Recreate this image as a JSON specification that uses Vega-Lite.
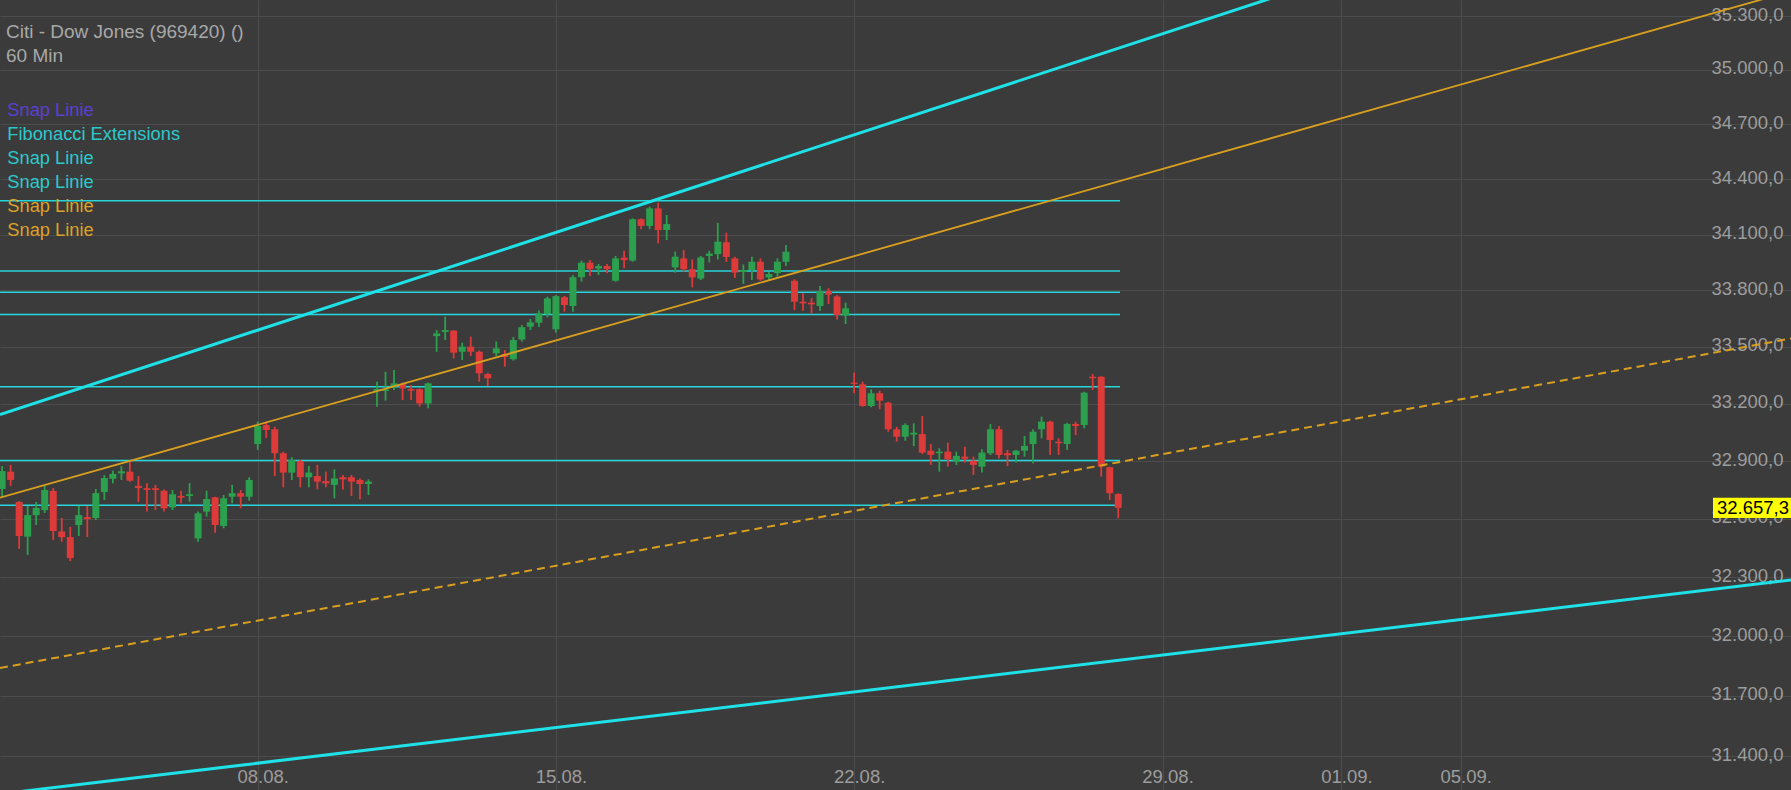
{
  "$schema": "https://vega.github.io/schema/vega-lite/v6.json",
  "width": 1791,
  "height": 790,
  "padding": 0,
  "autosize": {"type": "none"},
  "background": "#3b3b3b",
  "config": {
    "view": {"stroke": null},
    "font": "Liberation Sans",
    "axis": {"domain": false, "gridColor": "#4c4c4c", "gridWidth": 1, "labelColor": "#9d9d9d", "labelFontSize": 18.5, "labelFont": "Liberation Sans"}
  },
  "datasets": {
    "candles": [
      {"t":5,"o":32755,"h":32874,"l":32719,"c":32848},
      {"t":6,"o":32845,"h":32880,"l":32771,"c":32802},
      {"t":7,"o":32688,"h":32693,"l":32446,"c":32512},
      {"t":8,"o":32509,"h":32667,"l":32415,"c":32620},
      {"t":9,"o":32620,"h":32688,"l":32569,"c":32657},
      {"t":10,"o":32646,"h":32771,"l":32631,"c":32750},
      {"t":11,"o":32745,"h":32760,"l":32492,"c":32538},
      {"t":12,"o":32535,"h":32605,"l":32483,"c":32506},
      {"t":13,"o":32507,"h":32559,"l":32384,"c":32399},
      {"t":14,"o":32569,"h":32667,"l":32512,"c":32620},
      {"t":15,"o":32610,"h":32667,"l":32507,"c":32600},
      {"t":16,"o":32605,"h":32755,"l":32595,"c":32734},
      {"t":17,"o":32739,"h":32827,"l":32698,"c":32812},
      {"t":18,"o":32808,"h":32850,"l":32784,"c":32833},
      {"t":19,"o":32836,"h":32874,"l":32802,"c":32847},
      {"t":20,"o":32845,"h":32897,"l":32793,"c":32798},
      {"t":21,"o":32771,"h":32822,"l":32688,"c":32760},
      {"t":22,"o":32759,"h":32785,"l":32638,"c":32750},
      {"t":23,"o":32759,"h":32776,"l":32646,"c":32750},
      {"t":24,"o":32746,"h":32753,"l":32638,"c":32655},
      {"t":25,"o":32660,"h":32750,"l":32646,"c":32728},
      {"t":26,"o":32719,"h":32746,"l":32681,"c":32710},
      {"t":27,"o":32719,"h":32785,"l":32689,"c":32728},
      {"t":28,"o":32500,"h":32638,"l":32483,"c":32629},
      {"t":29,"o":32638,"h":32746,"l":32612,"c":32703},
      {"t":30,"o":32712,"h":32715,"l":32529,"c":32569},
      {"t":31,"o":32564,"h":32724,"l":32552,"c":32707},
      {"t":32,"o":32715,"h":32776,"l":32681,"c":32733},
      {"t":33,"o":32733,"h":32750,"l":32655,"c":32715},
      {"t":34,"o":32715,"h":32816,"l":32694,"c":32802},
      {"t":35,"o":32989,"h":33106,"l":32958,"c":33083},
      {"t":36,"o":33088,"h":33099,"l":33020,"c":33062},
      {"t":37,"o":33066,"h":33079,"l":32822,"c":32941},
      {"t":38,"o":32941,"h":32949,"l":32764,"c":32840},
      {"t":39,"o":32840,"h":32920,"l":32802,"c":32906},
      {"t":40,"o":32900,"h":32906,"l":32764,"c":32816},
      {"t":41,"o":32816,"h":32874,"l":32764,"c":32840},
      {"t":42,"o":32822,"h":32880,"l":32753,"c":32793},
      {"t":43,"o":32796,"h":32845,"l":32764,"c":32784},
      {"t":44,"o":32776,"h":32857,"l":32707,"c":32810},
      {"t":45,"o":32816,"h":32828,"l":32753,"c":32805},
      {"t":46,"o":32816,"h":32828,"l":32719,"c":32793},
      {"t":47,"o":32802,"h":32810,"l":32702,"c":32781},
      {"t":48,"o":32781,"h":32805,"l":32724,"c":32793},
      {"t":49,"o":33267,"h":33316,"l":33184,"c":33277},
      {"t":50,"o":33267,"h":33368,"l":33216,"c":33275},
      {"t":51,"o":33289,"h":33377,"l":33272,"c":33307},
      {"t":52,"o":33304,"h":33311,"l":33219,"c":33280},
      {"t":53,"o":33277,"h":33298,"l":33219,"c":33269},
      {"t":54,"o":33276,"h":33281,"l":33185,"c":33201},
      {"t":55,"o":33201,"h":33311,"l":33176,"c":33307},
      {"t":56,"o":33557,"h":33589,"l":33474,"c":33571},
      {"t":57,"o":33579,"h":33660,"l":33536,"c":33589},
      {"t":58,"o":33586,"h":33589,"l":33439,"c":33469},
      {"t":59,"o":33474,"h":33522,"l":33430,"c":33501},
      {"t":60,"o":33501,"h":33554,"l":33451,"c":33474},
      {"t":61,"o":33474,"h":33481,"l":33316,"c":33360},
      {"t":62,"o":33356,"h":33363,"l":33293,"c":33334},
      {"t":63,"o":33466,"h":33528,"l":33451,"c":33492},
      {"t":64,"o":33462,"h":33483,"l":33395,"c":33446},
      {"t":65,"o":33434,"h":33552,"l":33427,"c":33536},
      {"t":66,"o":33539,"h":33616,"l":33528,"c":33604},
      {"t":67,"o":33607,"h":33648,"l":33589,"c":33630},
      {"t":68,"o":33628,"h":33693,"l":33605,"c":33678},
      {"t":69,"o":33674,"h":33767,"l":33657,"c":33758},
      {"t":70,"o":33593,"h":33776,"l":33575,"c":33770},
      {"t":71,"o":33764,"h":33771,"l":33687,"c":33722},
      {"t":72,"o":33717,"h":33883,"l":33687,"c":33871},
      {"t":73,"o":33871,"h":33960,"l":33847,"c":33949},
      {"t":74,"o":33949,"h":33963,"l":33878,"c":33914},
      {"t":75,"o":33917,"h":33942,"l":33883,"c":33931},
      {"t":76,"o":33931,"h":33942,"l":33892,"c":33915},
      {"t":77,"o":33852,"h":33985,"l":33847,"c":33972},
      {"t":78,"o":33976,"h":34013,"l":33919,"c":33963},
      {"t":79,"o":33960,"h":34188,"l":33954,"c":34183},
      {"t":80,"o":34183,"h":34188,"l":34129,"c":34147},
      {"t":81,"o":34147,"h":34251,"l":34129,"c":34242},
      {"t":82,"o":34242,"h":34273,"l":34053,"c":34125},
      {"t":83,"o":34125,"h":34206,"l":34071,"c":34157},
      {"t":84,"o":33924,"h":34008,"l":33895,"c":33981},
      {"t":85,"o":33972,"h":34017,"l":33901,"c":33914},
      {"t":86,"o":33914,"h":33966,"l":33817,"c":33870},
      {"t":87,"o":33864,"h":33985,"l":33856,"c":33977},
      {"t":88,"o":33985,"h":34013,"l":33950,"c":33998},
      {"t":89,"o":33995,"h":34164,"l":33966,"c":34062},
      {"t":90,"o":34059,"h":34110,"l":33953,"c":33980},
      {"t":91,"o":33972,"h":33981,"l":33867,"c":33896},
      {"t":92,"o":33899,"h":33939,"l":33835,"c":33910},
      {"t":93,"o":33910,"h":33981,"l":33856,"c":33954},
      {"t":94,"o":33954,"h":33972,"l":33851,"c":33859},
      {"t":95,"o":33870,"h":33899,"l":33856,"c":33888},
      {"t":96,"o":33893,"h":33972,"l":33874,"c":33954},
      {"t":97,"o":33954,"h":34044,"l":33931,"c":34008},
      {"t":98,"o":33852,"h":33860,"l":33696,"c":33740},
      {"t":99,"o":33740,"h":33785,"l":33692,"c":33731},
      {"t":100,"o":33735,"h":33760,"l":33676,"c":33726},
      {"t":101,"o":33717,"h":33824,"l":33692,"c":33796},
      {"t":102,"o":33796,"h":33812,"l":33728,"c":33778},
      {"t":103,"o":33768,"h":33776,"l":33645,"c":33669},
      {"t":104,"o":33666,"h":33735,"l":33621,"c":33705},
      {"t":105,"o":33311,"h":33364,"l":33255,"c":33304},
      {"t":106,"o":33302,"h":33316,"l":33184,"c":33188},
      {"t":107,"o":33188,"h":33276,"l":33181,"c":33255},
      {"t":108,"o":33255,"h":33268,"l":33171,"c":33216},
      {"t":109,"o":33205,"h":33210,"l":33053,"c":33066},
      {"t":110,"o":33066,"h":33079,"l":33001,"c":33027},
      {"t":111,"o":33027,"h":33097,"l":33006,"c":33088},
      {"t":112,"o":33038,"h":33097,"l":32978,"c":33048},
      {"t":113,"o":33041,"h":33135,"l":32937,"c":32944},
      {"t":114,"o":32954,"h":32989,"l":32880,"c":32932},
      {"t":115,"o":32941,"h":32967,"l":32845,"c":32949},
      {"t":116,"o":32949,"h":32996,"l":32871,"c":32909},
      {"t":117,"o":32897,"h":32949,"l":32880,"c":32927},
      {"t":118,"o":32923,"h":32975,"l":32892,"c":32912},
      {"t":119,"o":32902,"h":32923,"l":32828,"c":32880},
      {"t":120,"o":32871,"h":32961,"l":32840,"c":32944},
      {"t":121,"o":32941,"h":33093,"l":32932,"c":33066},
      {"t":122,"o":33066,"h":33083,"l":32914,"c":32932},
      {"t":123,"o":32941,"h":32958,"l":32874,"c":32930},
      {"t":124,"o":32932,"h":32958,"l":32892,"c":32954},
      {"t":125,"o":32954,"h":33031,"l":32923,"c":32979},
      {"t":126,"o":32989,"h":33066,"l":32889,"c":33053},
      {"t":127,"o":33066,"h":33132,"l":33019,"c":33106},
      {"t":128,"o":33106,"h":33111,"l":32932,"c":33010},
      {"t":129,"o":33001,"h":33019,"l":32932,"c":32993},
      {"t":130,"o":32989,"h":33100,"l":32958,"c":33094},
      {"t":131,"o":33094,"h":33106,"l":33036,"c":33083},
      {"t":132,"o":33088,"h":33263,"l":33071,"c":33258},
      {"t":133,"o":33342,"h":33356,"l":33272,"c":33334},
      {"t":134,"o":33342,"h":33345,"l":32819,"c":32871},
      {"t":135,"o":32868,"h":32871,"l":32698,"c":32733},
      {"t":136,"o":32729,"h":32733,"l":32604,"c":32657.3}
    ],
    "lines": [
      {"id":"f1","name":"fib","t":0,"v":34283.5},{"id":"f1","name":"fib","t":136.2,"v":34283.5},
      {"id":"f2","name":"fib","t":0,"v":33904.4},{"id":"f2","name":"fib","t":136.2,"v":33904.4},
      {"id":"f3","name":"fib","t":0,"v":33790.3},{"id":"f3","name":"fib","t":136.2,"v":33790.3},
      {"id":"f4","name":"fib","t":0,"v":33671.8},{"id":"f4","name":"fib","t":136.2,"v":33671.8},
      {"id":"f5","name":"fib","t":0,"v":33289.4},{"id":"f5","name":"fib","t":136.2,"v":33289.4},
      {"id":"f6","name":"fib","t":0,"v":32903.0},{"id":"f6","name":"fib","t":136.2,"v":32903.0},
      {"id":"f7","name":"fib","t":0,"v":32670.6},{"id":"f7","name":"fib","t":136.2,"v":32670.6},
      {"id":"s2","name":"s2","t":4.753,"v":33143.3},{"id":"s2","name":"s2","t":214.96,"v":36365.7},
      {"id":"s3","name":"s3","t":4.753,"v":31212.2},{"id":"s3","name":"s3","t":214.96,"v":32286.7},
      {"id":"s4","name":"s4","t":4.753,"v":32709.9},{"id":"s4","name":"s4","t":214.96,"v":35438.8},
      {"id":"s5","name":"s5","t":4.753,"v":31840.4},{"id":"s5","name":"s5","t":214.96,"v":33544.2}
    ],
    "price": [
      {"price": 32657.3, "label": "32.657,3"}
    ]
  },
  "layer": [
    {
      "data": {"name": "lines"},
      "transform": [{"filter": "datum.name == 'fib'"}],
      "mark": {"type": "line", "strokeWidth": 1.6, "clip": true},
      "encoding": {
        "x": {"field": "t", "type": "quantitative",
          "scale": {"domain": [4.753, 214.96], "nice": false, "zero": false, "padding": 0},
          "axis": {"orient": "bottom", "offset": -23, "values": [35, 70, 105, 141.2, 162.2, 176.2],
            "labelExpr": "datum.value < 50 ? '08.08.' : datum.value < 90 ? '15.08.' : datum.value < 120 ? '22.08.' : datum.value < 150 ? '29.08.' : datum.value < 170 ? '01.09.' : '05.09.'",
            "ticks": false, "tickSize": 0, "labelPadding": 0, "labelBaseline": "top", "labelAlign": "center",
            "labelOffset": 5, "grid": true, "title": null, "zindex": 0, "labelFlush": false, "labelOverlap": false}},
        "y": {"field": "v", "type": "quantitative",
          "scale": {"type": "log", "domain": [31231.8, 35389.5], "nice": false, "zero": false, "padding": 0},
          "axis": {"orient": "right", "offset": -85,
            "values": [31400, 31700, 32000, 32300, 32600, 32900, 33200, 33500, 33800, 34100, 34400, 34700, 35000, 35300],
            "labelExpr": "format(floor(datum.value/1000),'d') + '.' + format(datum.value % 1000,'03d') + ',0'",
            "ticks": false, "tickSize": 0, "labelPadding": 5, "labelAlign": "left", "labelBaseline": "middle",
            "labelOffset": -2, "grid": true, "title": null, "zindex": 0, "labelFlush": false, "labelOverlap": false}},
        "color": {"field": "name", "type": "nominal",
          "scale": {"domain": ["s1", "fib", "s2", "s3", "s4", "s5"],
                    "range": ["#5b3fd1", "#27d6db", "#1fe2e8", "#1fe2e8", "#d99f1f", "#d99f1f"]},
          "legend": {"orient": "none", "legendX": 6, "legendY": 22.8,
            "title": ["Citi - Dow Jones (969420) ()", "60 Min"],
            "titleFontSize": 19, "titleFontWeight": "normal", "titleColor": "#a8a8a8", "titleLineHeight": 24,
            "titlePadding": 36.3, "titleLimit": 800, "titleAnchor": "start", "titleFont": "Liberation Sans",
            "labelFontSize": 18.3, "labelLimit": 800, "labelOffset": -17, "labelFont": "Liberation Sans",
            "labelExpr": "datum.value == 'fib' ? 'Fibonacci Extensions' : 'Snap Linie'",
            "labelColor": {"expr": "datum.value == 's1' ? '#5b3fd6' : (datum.value == 's4' || datum.value == 's5') ? '#dba126' : '#2cc9cc'"},
            "symbolSize": 0, "symbolOpacity": 0, "symbolStrokeWidth": 0, "rowPadding": 5.0, "padding": 0, "direction": "vertical"}},
        "detail": {"field": "id"}
      }
    },
    {
      "data": {"name": "candles"},
      "mark": {"type": "rule", "strokeWidth": 1.8},
      "encoding": {
        "x": {"field": "t", "type": "quantitative",
          "scale": {"domain": [4.753, 214.96], "nice": false, "zero": false, "padding": 0},
          "axis": {"orient": "bottom", "offset": -23, "values": [35, 70, 105, 141.2, 162.2, 176.2],
            "labelExpr": "datum.value < 50 ? '08.08.' : datum.value < 90 ? '15.08.' : datum.value < 120 ? '22.08.' : datum.value < 150 ? '29.08.' : datum.value < 170 ? '01.09.' : '05.09.'",
            "ticks": false, "tickSize": 0, "labelPadding": 0, "labelBaseline": "top", "labelAlign": "center",
            "labelOffset": 5, "grid": true, "title": null, "zindex": 0, "labelFlush": false, "labelOverlap": false}},
        "y": {"field": "l", "type": "quantitative",
          "scale": {"type": "log", "domain": [31231.8, 35389.5], "nice": false, "zero": false, "padding": 0},
          "axis": {"orient": "right", "offset": -85,
            "values": [31400, 31700, 32000, 32300, 32600, 32900, 33200, 33500, 33800, 34100, 34400, 34700, 35000, 35300],
            "labelExpr": "format(floor(datum.value/1000),'d') + '.' + format(datum.value % 1000,'03d') + ',0'",
            "ticks": false, "tickSize": 0, "labelPadding": 5, "labelAlign": "left", "labelBaseline": "middle",
            "labelOffset": -2, "grid": true, "title": null, "zindex": 0, "labelFlush": false, "labelOverlap": false}},
        "y2": {"field": "h"},
        "color": {"condition": {"test": "datum.c >= datum.o", "value": "#2ca04e"}, "value": "#dd3a3a"}
      }
    },
    {
      "data": {"name": "candles"},
      "mark": {"type": "bar", "width": 7},
      "encoding": {
        "x": {"field": "t", "type": "quantitative",
          "scale": {"domain": [4.753, 214.96], "nice": false, "zero": false, "padding": 0},
          "axis": {"orient": "bottom", "offset": -23, "values": [35, 70, 105, 141.2, 162.2, 176.2],
            "labelExpr": "datum.value < 50 ? '08.08.' : datum.value < 90 ? '15.08.' : datum.value < 120 ? '22.08.' : datum.value < 150 ? '29.08.' : datum.value < 170 ? '01.09.' : '05.09.'",
            "ticks": false, "tickSize": 0, "labelPadding": 0, "labelBaseline": "top", "labelAlign": "center",
            "labelOffset": 5, "grid": true, "title": null, "zindex": 0, "labelFlush": false, "labelOverlap": false}},
        "y": {"field": "o", "type": "quantitative",
          "scale": {"type": "log", "domain": [31231.8, 35389.5], "nice": false, "zero": false, "padding": 0},
          "axis": {"orient": "right", "offset": -85,
            "values": [31400, 31700, 32000, 32300, 32600, 32900, 33200, 33500, 33800, 34100, 34400, 34700, 35000, 35300],
            "labelExpr": "format(floor(datum.value/1000),'d') + '.' + format(datum.value % 1000,'03d') + ',0'",
            "ticks": false, "tickSize": 0, "labelPadding": 5, "labelAlign": "left", "labelBaseline": "middle",
            "labelOffset": -2, "grid": true, "title": null, "zindex": 0, "labelFlush": false, "labelOverlap": false}},
        "y2": {"field": "c"},
        "color": {"condition": {"test": "datum.c >= datum.o", "value": "#2ca04e"}, "value": "#dd3a3a"}
      }
    },
    {
      "data": {"name": "lines"},
      "transform": [{"filter": "datum.name == 's2' || datum.name == 's3'"}],
      "mark": {"type": "line", "strokeWidth": 3, "clip": true},
      "encoding": {
        "x": {"field": "t", "type": "quantitative",
          "scale": {"domain": [4.753, 214.96], "nice": false, "zero": false, "padding": 0},
          "axis": {"orient": "bottom", "offset": -23, "values": [35, 70, 105, 141.2, 162.2, 176.2],
            "labelExpr": "datum.value < 50 ? '08.08.' : datum.value < 90 ? '15.08.' : datum.value < 120 ? '22.08.' : datum.value < 150 ? '29.08.' : datum.value < 170 ? '01.09.' : '05.09.'",
            "ticks": false, "tickSize": 0, "labelPadding": 0, "labelBaseline": "top", "labelAlign": "center",
            "labelOffset": 5, "grid": true, "title": null, "zindex": 0, "labelFlush": false, "labelOverlap": false}},
        "y": {"field": "v", "type": "quantitative",
          "scale": {"type": "log", "domain": [31231.8, 35389.5], "nice": false, "zero": false, "padding": 0},
          "axis": {"orient": "right", "offset": -85,
            "values": [31400, 31700, 32000, 32300, 32600, 32900, 33200, 33500, 33800, 34100, 34400, 34700, 35000, 35300],
            "labelExpr": "format(floor(datum.value/1000),'d') + '.' + format(datum.value % 1000,'03d') + ',0'",
            "ticks": false, "tickSize": 0, "labelPadding": 5, "labelAlign": "left", "labelBaseline": "middle",
            "labelOffset": -2, "grid": true, "title": null, "zindex": 0, "labelFlush": false, "labelOverlap": false}},
        "color": {"field": "name", "type": "nominal"},
        "detail": {"field": "id"}
      }
    },
    {
      "data": {"name": "lines"},
      "transform": [{"filter": "datum.name == 's4'"}],
      "mark": {"type": "line", "strokeWidth": 1.8, "clip": true},
      "encoding": {
        "x": {"field": "t", "type": "quantitative",
          "scale": {"domain": [4.753, 214.96], "nice": false, "zero": false, "padding": 0},
          "axis": {"orient": "bottom", "offset": -23, "values": [35, 70, 105, 141.2, 162.2, 176.2],
            "labelExpr": "datum.value < 50 ? '08.08.' : datum.value < 90 ? '15.08.' : datum.value < 120 ? '22.08.' : datum.value < 150 ? '29.08.' : datum.value < 170 ? '01.09.' : '05.09.'",
            "ticks": false, "tickSize": 0, "labelPadding": 0, "labelBaseline": "top", "labelAlign": "center",
            "labelOffset": 5, "grid": true, "title": null, "zindex": 0, "labelFlush": false, "labelOverlap": false}},
        "y": {"field": "v", "type": "quantitative",
          "scale": {"type": "log", "domain": [31231.8, 35389.5], "nice": false, "zero": false, "padding": 0},
          "axis": {"orient": "right", "offset": -85,
            "values": [31400, 31700, 32000, 32300, 32600, 32900, 33200, 33500, 33800, 34100, 34400, 34700, 35000, 35300],
            "labelExpr": "format(floor(datum.value/1000),'d') + '.' + format(datum.value % 1000,'03d') + ',0'",
            "ticks": false, "tickSize": 0, "labelPadding": 5, "labelAlign": "left", "labelBaseline": "middle",
            "labelOffset": -2, "grid": true, "title": null, "zindex": 0, "labelFlush": false, "labelOverlap": false}},
        "color": {"field": "name", "type": "nominal"},
        "detail": {"field": "id"}
      }
    },
    {
      "data": {"name": "lines"},
      "transform": [{"filter": "datum.name == 's5'"}],
      "mark": {"type": "line", "strokeWidth": 2, "strokeDash": [8, 5], "clip": true},
      "encoding": {
        "x": {"field": "t", "type": "quantitative",
          "scale": {"domain": [4.753, 214.96], "nice": false, "zero": false, "padding": 0},
          "axis": {"orient": "bottom", "offset": -23, "values": [35, 70, 105, 141.2, 162.2, 176.2],
            "labelExpr": "datum.value < 50 ? '08.08.' : datum.value < 90 ? '15.08.' : datum.value < 120 ? '22.08.' : datum.value < 150 ? '29.08.' : datum.value < 170 ? '01.09.' : '05.09.'",
            "ticks": false, "tickSize": 0, "labelPadding": 0, "labelBaseline": "top", "labelAlign": "center",
            "labelOffset": 5, "grid": true, "title": null, "zindex": 0, "labelFlush": false, "labelOverlap": false}},
        "y": {"field": "v", "type": "quantitative",
          "scale": {"type": "log", "domain": [31231.8, 35389.5], "nice": false, "zero": false, "padding": 0},
          "axis": {"orient": "right", "offset": -85,
            "values": [31400, 31700, 32000, 32300, 32600, 32900, 33200, 33500, 33800, 34100, 34400, 34700, 35000, 35300],
            "labelExpr": "format(floor(datum.value/1000),'d') + '.' + format(datum.value % 1000,'03d') + ',0'",
            "ticks": false, "tickSize": 0, "labelPadding": 5, "labelAlign": "left", "labelBaseline": "middle",
            "labelOffset": -2, "grid": true, "title": null, "zindex": 0, "labelFlush": false, "labelOverlap": false}},
        "color": {"field": "name", "type": "nominal"},
        "detail": {"field": "id"}
      }
    },
    {
      "data": {"name": "price"},
      "mark": {"type": "point", "shape": "M-2,-0.26H0V0.26H-2Z", "filled": true, "color": "#ffff00", "opacity": 1, "size": 6084, "strokeWidth": 0},
      "encoding": {
        "x": {"value": "width"},
        "y": {"field": "price", "type": "quantitative",
          "scale": {"type": "log", "domain": [31231.8, 35389.5], "nice": false, "zero": false, "padding": 0},
          "axis": {"orient": "right", "offset": -85,
            "values": [31400, 31700, 32000, 32300, 32600, 32900, 33200, 33500, 33800, 34100, 34400, 34700, 35000, 35300],
            "labelExpr": "format(floor(datum.value/1000),'d') + '.' + format(datum.value % 1000,'03d') + ',0'",
            "ticks": false, "tickSize": 0, "labelPadding": 5, "labelAlign": "left", "labelBaseline": "middle",
            "labelOffset": -2, "grid": true, "title": null, "zindex": 0, "labelFlush": false, "labelOverlap": false}}
      }
    },
    {
      "data": {"name": "price"},
      "mark": {"type": "text", "align": "right", "baseline": "middle", "dx": -2, "fontSize": 18.5, "color": "#000000", "font": "Liberation Sans"},
      "encoding": {
        "x": {"value": "width"},
        "y": {"field": "price", "type": "quantitative",
          "scale": {"type": "log", "domain": [31231.8, 35389.5], "nice": false, "zero": false, "padding": 0},
          "axis": {"orient": "right", "offset": -85,
            "values": [31400, 31700, 32000, 32300, 32600, 32900, 33200, 33500, 33800, 34100, 34400, 34700, 35000, 35300],
            "labelExpr": "format(floor(datum.value/1000),'d') + '.' + format(datum.value % 1000,'03d') + ',0'",
            "ticks": false, "tickSize": 0, "labelPadding": 5, "labelAlign": "left", "labelBaseline": "middle",
            "labelOffset": -2, "grid": true, "title": null, "zindex": 0, "labelFlush": false, "labelOverlap": false}},
        "text": {"field": "label"}
      }
    }
  ]
}
